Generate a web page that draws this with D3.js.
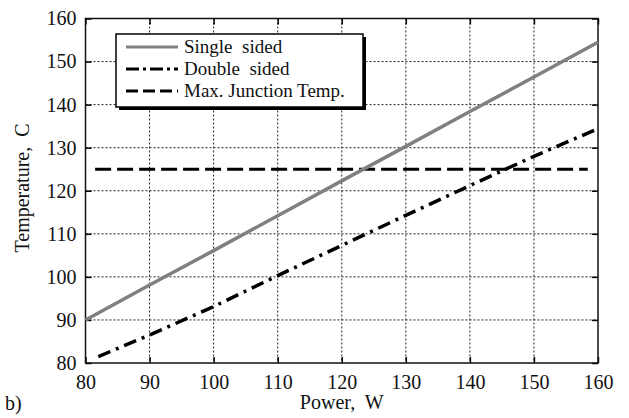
<!DOCTYPE html>
<html lang="en">
<head>
<meta charset="utf-8" />
<title>Temperature vs Power</title>
<script src="https://d3js.org/d3.v7.min.js"></script>
<style>
  body { margin: 0; background: #fff; }
  svg { display: block; font-family: "Liberation Serif", "Times New Roman", serif; }
  .grid line { stroke: #222; stroke-width: 1; stroke-dasharray: 2,2; }
</style>
</head>
<body>
<svg width="629" height="418"></svg>
<script>
// power axis (W) and temperatures
var power = [80, 82, 90, 100, 110, 120, 130, 140, 150, 160];
var singleSided = [90, 91.6, 98.1, 106.1, 114.2, 122.3, 130.3, 138.4, 146.4, 154.5];
var doubleSided = [null, 81.5, 86.5, 93.1, 100.3, 107.3, 114.3, 121.2, 128, 134.4];
var junctionPower = [81.5, 158.4];
var junctionTemp = [125, 125];
var xTicks = [80, 90, 100, 110, 120, 130, 140, 150, 160];
var yTicks = [80, 90, 100, 110, 120, 130, 140, 150, 160];
var legendLabels = ["Single  sided", "Double  sided", "Max. Junction Temp."];

var serif = "'Liberation Serif', 'Times New Roman', serif";

var svg = d3.select("svg"),
    margin = {top: 18.5, right: 31, bottom: 55, left: 85.5},
    width = 629 - margin.left - margin.right,
    height = 418 - margin.top - margin.bottom;

var x = d3.scaleLinear().domain([80, 160]).range([0, width]);
var y = d3.scaleLinear().domain([80, 160]).range([height, 0]);

var g = svg.append("g")
    .attr("transform", "translate(" + margin.left + "," + margin.top + ")");

// grid
var grid = g.append("g").attr("class", "grid");
grid.selectAll(".gx").data(xTicks.slice(1, -1)).enter().append("line")
    .attr("x1", function(d) { return x(d); }).attr("x2", function(d) { return x(d); })
    .attr("y1", 0).attr("y2", height);
grid.selectAll(".gy").data(yTicks.slice(1, -1)).enter().append("line")
    .attr("y1", function(d) { return y(d); }).attr("y2", function(d) { return y(d); })
    .attr("x1", 0).attr("x2", width);

function styleAxis(a) {
  a.attr("font-family", serif).attr("font-size", 20);
  a.select(".domain").remove();
  a.selectAll("line").attr("stroke", "#000").attr("stroke-width", 1.5);
  a.selectAll("text").attr("fill", "#111").style("font-family", serif).style("font-size", "20px");
}

// axes, ticks pointing inward
g.append("g")
    .attr("transform", "translate(0," + height + ")")
    .call(d3.axisBottom(x).tickValues(xTicks).tickSizeInner(-6).tickSizeOuter(0).tickPadding(12))
    .call(styleAxis);
g.append("g")
    .call(d3.axisTop(x).tickValues(xTicks).tickSizeInner(-6).tickSizeOuter(0).tickFormat(""))
    .call(styleAxis);
g.append("g")
    .call(d3.axisLeft(y).tickValues(yTicks).tickSizeInner(-6).tickSizeOuter(0).tickPadding(9))
    .call(styleAxis);
g.append("g")
    .attr("transform", "translate(" + width + ",0)")
    .call(d3.axisRight(y).tickValues(yTicks).tickSizeInner(-6).tickSizeOuter(0).tickFormat(""))
    .call(styleAxis);

g.append("rect")
    .attr("width", width).attr("height", height)
    .attr("fill", "none").attr("stroke", "#111").attr("stroke-width", 1.5);

// series
var line = d3.line()
    .defined(function(d) { return d[1] != null; })
    .x(function(d) { return x(d[0]); })
    .y(function(d) { return y(d[1]); });

g.append("path")
    .attr("d", line(junctionPower.map(function(p, i) { return [p, junctionTemp[i]]; })))
    .attr("fill", "none").attr("stroke", "#000").attr("stroke-width", 3)
    .attr("stroke-dasharray", "16,6");

g.append("path")
    .attr("d", line(power.map(function(p, i) { return [p, singleSided[i]]; })))
    .attr("fill", "none").attr("stroke", "#808080").attr("stroke-width", 3.5);

g.append("path")
    .attr("d", line(power.map(function(p, i) { return [p, doubleSided[i]]; })))
    .attr("fill", "none").attr("stroke", "#000").attr("stroke-width", 3.5)
    .attr("stroke-dasharray", "13,6,3,6");

// legend
var lg = svg.append("g").attr("transform", "translate(116,34)");
lg.append("rect").attr("x", 3).attr("y", 3).attr("width", 247).attr("height", 73).attr("fill", "#000");
lg.append("rect").attr("width", 247).attr("height", 73).attr("fill", "#fff").attr("stroke", "#000").attr("stroke-width", 1.5);
var styles = [
  {stroke: "#808080", dash: null},
  {stroke: "#000", dash: "13,4,3,4"},
  {stroke: "#000", dash: "12,5"}
];
legendLabels.forEach(function(t, i) {
  var yy = 13 + i * 22;
  lg.append("line").attr("x1", 10).attr("x2", 62).attr("y1", yy).attr("y2", yy)
    .attr("stroke", styles[i].stroke).attr("stroke-width", 3)
    .attr("stroke-dasharray", styles[i].dash);
  lg.append("text").attr("x", 68).attr("y", yy + 6).attr("font-size", 19)
    .attr("fill", "#111").style("font-family", serif).style("white-space", "pre").text(t);
});

// axis titles
svg.append("text")
    .attr("x", margin.left + width / 2).attr("y", 409)
    .attr("text-anchor", "middle").attr("font-size", 20).attr("fill", "#111")
    .style("font-family", serif).style("white-space", "pre").text("Power,  W");
svg.append("text")
    .attr("transform", "translate(29," + 188 + ") rotate(-90)")
    .attr("text-anchor", "middle").attr("font-size", 20).attr("fill", "#111")
    .style("font-family", serif).style("white-space", "pre").text("Temperature,  C");
svg.append("text")
    .attr("x", 5).attr("y", 410).attr("font-size", 20).attr("fill", "#111")
    .style("font-family", serif).text("b)");
</script>
</body>
</html>
